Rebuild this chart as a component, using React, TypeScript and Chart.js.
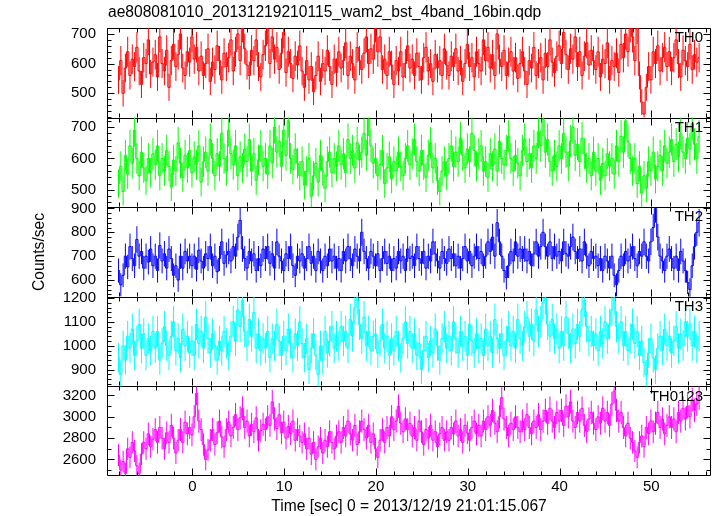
import React, { useEffect, useRef } from 'react';
import { Chart, registerables } from 'chart.js';

Chart.register(...registerables);

const TITLE = 'ae808081010_20131219210115_wam2_bst_4band_16bin.qdp';
const X_TITLE = 'Time [sec] 0 = 2013/12/19 21:01:15.067';
const Y_TITLE = 'Counts/sec';
const BAND_LABELS = ['TH0', 'TH1', 'TH2', 'TH3', 'TH0123'];
const COLORS = ['#ff0000', '#00ff00', '#0000ff', '#00ffff', '#ff00ff'];

const T_START = -8.045; // centre of the first 0.25 s bin
const BIN = 0.25;
const X_MIN = -9.3;
const X_MAX = 56.5;
const X_LABELS = [0, 10, 20, 30, 40, 50];
const X_MINOR = 2;
const X_MAJOR = 10;

const Y_MINS = [418, 445, 530, 830, 2445];
const Y_MAXS = [720, 730, 905, 1205, 3285];
const Y_MAJOR = [100, 100, 100, 100, 200];
const Y_MINOR = [20, 20, 20, 20, 100];

const TH0 = [
  545, 610, 500, 585, 640, 560, 615, 590, 655, 575, 530, 620, 600, 680, 565, 605,
  630, 555, 690, 600, 575, 645, 520, 610, 665, 590, 630, 700, 585, 560, 640, 605,
  690, 615, 655, 575, 625, 560, 600, 650, 540, 605, 580, 660, 610, 545, 635, 590,
  620, 680, 575, 640, 700, 610, 725, 650, 595, 560, 645, 610, 680, 590, 555, 630,
  660, 720, 600, 690, 615, 655, 580, 635, 705, 570, 640, 600, 550, 625, 595, 660,
  575, 520, 610, 545, 590, 505, 560, 625, 540, 600, 575, 645, 590, 530, 615, 570,
  640, 585, 610, 670, 560, 625, 600, 545, 655, 610, 580, 635, 690, 600, 650, 615,
  725, 640, 690, 580, 615, 560, 640, 595, 530, 610, 575, 640, 555, 600, 660, 585,
  615, 560, 635, 590, 545, 620, 655, 575, 600, 540, 630, 585, 610, 560, 650, 595,
  560, 625, 590, 650, 575, 610, 540, 600, 665, 590, 620, 555, 640, 600, 575, 680,
  610, 655, 585, 630, 560, 700, 615, 590, 645, 560, 605, 640, 575, 620, 550, 600,
  640, 575, 530, 610, 585, 655, 560, 600, 620, 545, 635, 590, 680, 605, 570, 625,
  660, 600, 705, 630, 580, 650, 615, 690, 590, 640, 560, 625, 670, 595, 645, 610,
  580, 640, 555, 615, 600, 670, 545, 610, 590, 635, 570, 665, 620, 700, 640, 725,
  690, 610, 720, 560, 470, 430, 520, 590, 545, 640, 600, 660, 575, 620, 655, 590,
  640, 575, 620, 680, 600, 555, 645, 610, 590, 665, 580, 630, 605, 620,
];

const TH1 = [
  520, 575, 495, 610, 550, 640, 585, 690, 600, 545, 620, 570, 530, 600, 555, 615,
  580, 640, 545, 600, 560, 625, 575, 510, 595, 560, 650, 585, 540, 610, 570, 625,
  555, 605, 580, 640, 525, 590, 620, 560, 660, 600, 545, 615, 575, 680, 600, 560,
  690, 615, 580, 640, 545, 605, 570, 630, 590, 660, 560, 615, 530, 595, 640, 575,
  600, 550, 640, 585, 700, 620, 655, 575, 690, 610, 720, 600, 565, 630, 585, 545,
  590, 515, 560, 600, 480, 545, 585, 525, 610, 560, 505, 590, 620, 555, 600, 575,
  640, 580, 615, 555, 660, 600, 625, 570, 650, 595, 620, 680, 610, 725, 640, 585,
  600, 545, 580, 625, 520, 570, 605, 535, 590, 560, 620, 575, 545, 600, 640, 580,
  615, 660, 590, 560, 625, 580, 540, 610, 650, 570, 600, 530, 495, 560, 590, 545,
  600, 640, 575, 620, 590, 665, 610, 570, 630, 590, 680, 625, 575, 615, 640, 560,
  590, 540, 615, 575, 630, 560, 655, 600, 580, 625, 670, 600, 560, 610, 585, 545,
  625, 660, 590, 615, 570, 640, 600, 685, 640, 725, 620, 660, 590, 560, 610, 575,
  640, 600, 680, 620, 575, 655, 700, 610, 645, 590, 665, 615, 570, 600, 545, 620,
  560, 600, 530, 585, 545, 615, 575, 600, 550, 640, 590, 670, 620, 720, 655, 600,
  560, 600, 520, 575, 490, 545, 505, 590, 560, 620, 535, 575, 610, 560, 640, 585,
  620, 660, 590, 645, 605, 680, 620, 600, 665, 630, 710, 645, 600, 670,
];

const TH2 = [
  640, 580, 620, 700, 655, 740, 690, 660, 770, 700, 720, 650, 700, 675, 730, 660,
  700, 640, 745, 680, 710, 650, 730, 690, 620, 660, 600, 700, 650, 720, 680, 700,
  660, 700, 645, 725, 680, 650, 710, 690, 740, 660, 700, 635, 690, 760, 670, 705,
  720, 680, 740, 700, 780, 850, 730, 690, 650, 720, 680, 710, 640, 690, 660, 730,
  690, 740, 670, 710, 650, 760, 700, 680, 640, 710, 690, 740, 660, 620, 700, 680,
  710, 650, 690, 740, 670, 700, 640, 720, 680, 640, 700, 660, 730, 680, 700, 650,
  690, 640, 720, 680, 740, 690, 660, 730, 700, 680, 800, 720, 690, 650, 720, 700,
  660, 710, 640, 690, 720, 670, 700, 640, 690, 650, 720, 680, 700, 640, 730, 690,
  700, 660, 740, 690, 670, 720, 650, 700, 680, 760, 710, 680, 650, 720, 690, 670,
  730, 690, 710, 660, 700, 650, 690, 740, 680, 720, 660, 700, 740, 690, 720, 660,
  700, 760, 720, 780, 700, 840, 760, 700, 640, 610, 660, 720, 680, 760, 700, 730,
  690, 730, 680, 720, 660, 710, 760, 700, 740, 800, 740, 700, 760, 690, 740, 700,
  720, 680, 760, 710, 700, 740, 780, 720, 690, 730, 680, 760, 700, 660, 720, 690,
  700, 660, 690, 640, 700, 680, 650, 700, 620, 580, 640, 700, 660, 720, 680, 700,
  740, 690, 660, 720, 700, 760, 700, 680, 760, 820, 900, 780, 700, 680, 640, 700,
  730, 690, 650, 700, 640, 720, 680, 640, 590, 560, 660, 740, 800, 840,
];

const TH3 = [
  950, 880, 1000, 940, 1040, 990, 1070, 960, 1020, 1090, 990, 1050, 960, 1030, 980, 1060,
  990, 1060, 940, 1010, 1080, 1000, 960, 1040, 1100, 980, 1030, 950, 1070, 1000, 1040, 970,
  1020, 960, 1090, 1010, 1060, 990, 1120, 1030, 970, 1050, 1000, 940, 1020, 980, 1060, 1010,
  960, 1040, 1100, 1020, 1150, 1080, 1190, 1060, 1000, 1110, 1040, 1140, 990, 1050, 980, 1030,
  990, 1060, 950, 1030, 1000, 1090, 1020, 960, 1040, 980, 1070, 1010, 950, 1050, 1000, 1100,
  1010, 950, 1030, 900, 990, 1050, 960, 880, 1000, 940, 1060, 970, 1020, 1080, 990, 1040,
  1000, 1080, 1020, 1060, 990, 1110, 1040, 1160, 1200, 1090, 1030, 1120, 1000, 1060, 980, 1040,
  1050, 970, 1020, 1090, 990, 1040, 960, 1030, 980, 1060, 1000, 950, 1030, 1100, 1010, 1060,
  990, 1050, 960, 1010, 900, 980, 1040, 950, 1020, 970, 1070, 1000, 940, 1030, 1080, 990,
  1040, 980, 1100, 1030, 970, 1060, 1000, 1040, 960, 1090, 1020, 970, 1050, 990, 1030, 960,
  1070, 1000, 1040, 970, 1110, 1030, 990, 1050, 960, 1020, 1080, 1000, 1060, 990, 1110, 1030,
  1000, 1080, 1120, 1040, 1090, 1020, 1150, 1060, 1100, 1180, 1200, 1090, 1040, 1110, 1030, 1070,
  990, 1060, 1000, 1120, 1050, 990, 1070, 1010, 1090, 1040, 1150, 1190, 1080, 1020, 1060, 1000,
  1050, 980, 1060, 1010, 1100, 1030, 1090, 1150, 1200, 1080, 1030, 1100, 1000, 1060, 980, 1030,
  1090, 1010, 1060, 960, 1020, 930, 880, 970, 1030, 950, 900, 990, 1040, 980, 1070, 1000,
  1040, 970, 1020, 1080, 990, 1050, 1000, 1100, 1040, 1090, 1000, 1060, 990, 1040,
];

const TH0123 = [
  2640, 2500, 2580, 2470, 2700, 2620, 2760, 2680, 2540, 2470, 2650, 2760, 2700, 2840, 2720, 2790,
  2880, 2760, 2900, 2800, 2700, 2850, 2760, 2920, 2800, 2660, 2780, 2880, 2760, 2950, 2840, 2900,
  2830, 3000, 3220, 2960, 2880, 2740, 2600, 2690, 2780, 2880, 2740, 2850, 2960, 2810, 2720, 2880,
  2950, 2820, 2900, 3020, 2880, 2990, 3080, 2900, 2960, 2820, 2930, 2860, 2990, 2780, 2870, 2930,
  2880, 3000, 2920, 3140, 2980, 2890, 3020, 2850, 2950, 2800, 2910, 2840, 2960, 2780, 2880, 2820,
  2760, 2840, 2700, 2800, 2650, 2760, 2600, 2720, 2800, 2660, 2780, 2720, 2860, 2760, 2700, 2820,
  2860, 2760, 2900, 2820, 2960, 2840, 2780, 2920, 2740, 2860, 2960, 2880, 2800, 2920, 2760, 2840,
  2700, 2620, 2780, 2880, 2760, 2900, 2820, 3000, 2880, 2960, 3100, 2940, 2860, 2980, 2880, 2940,
  2820, 2900, 2780, 2960, 2860, 2740, 2880, 2800, 2920, 2780, 2860, 2720, 2840, 2900, 2780, 2860,
  2780, 2900, 2840, 2960, 2820, 2880, 2760, 2920, 2850, 2780, 2900, 2960, 2840, 2920, 2820, 2960,
  2880, 3000, 2920, 3060, 2940, 2860, 3000, 3180, 2980, 2900, 2820, 2940, 2880, 3000, 2900, 2860,
  2960, 2880, 3020, 2900, 2840, 2960, 2900, 3020, 2880, 2960, 3060, 2940, 3080, 2960, 2900, 3040,
  2960, 3060, 2920, 3100, 3000, 3140, 2960, 2900, 3040, 2960, 3080, 2920, 2860, 2980, 3040, 2940,
  2880, 3000, 2940, 3080, 2960, 3040, 2920, 3120, 3240, 3060, 2960, 3040, 2900, 2820, 2940, 2800,
  2760, 2680, 2620, 2760, 2820, 2720, 2900, 2840, 2960, 2860, 2940, 3040, 2900, 2980, 2840, 2920,
  3000, 2900, 2980, 2860, 3040, 2960, 3080, 2980, 3100, 3000, 3160, 3060, 3120, 3180,
];

const SERIES = [TH0, TH1, TH2, TH3, TH0123];

const FONT_FAMILY = '"Liberation Sans", Arial, Helvetica, sans-serif';
const FONT_SIZE = 15;
const TITLE_FONT_SIZE = 15.6;

const qdpPlugin = {
  id: 'qdpFrame',
  beforeDatasetsDraw(chart: any) {
    const ctx = chart.ctx;
    const { left, right, top, bottom } = chart.chartArea;
    const xs = chart.scales.x;
    ctx.save();
    ctx.strokeStyle = '#000';
    ctx.lineWidth = 1;
    ctx.beginPath();
    const L = Math.round(left) + 0.5;
    const R = Math.round(right) - 0.5;
    const T = Math.round(top) + 0.5;
    const B = Math.round(bottom) - 0.5;
    ctx.rect(L, T, R - L, B - T);
    for (let i = 0; i < SERIES.length; i++) {
      const ys = chart.scales['y' + i];
      const pt = Math.round(ys.top) + 0.5;
      const pb = Math.round(ys.bottom) - 0.5;
      if (i > 0) {
        ctx.moveTo(L, pt);
        ctx.lineTo(R, pt);
      }
      for (let t = Math.ceil(X_MIN / X_MINOR) * X_MINOR; t <= X_MAX; t += X_MINOR) {
        const px = Math.round(xs.getPixelForValue(t)) + 0.5;
        const len = t % X_MAJOR === 0 ? 7 : 4;
        ctx.moveTo(px, pt);
        ctx.lineTo(px, pt + len);
        ctx.moveTo(px, pb);
        ctx.lineTo(px, pb - len);
      }
      const mn = Y_MINOR[i];
      for (let v = Math.ceil(Y_MINS[i] / mn) * mn; v <= Y_MAXS[i]; v += mn) {
        const py = Math.round(ys.getPixelForValue(v)) + 0.5;
        const len = v % Y_MAJOR[i] === 0 ? 7 : 4;
        ctx.moveTo(L, py);
        ctx.lineTo(L + len, py);
        ctx.moveTo(R, py);
        ctx.lineTo(R - len, py);
      }
    }
    ctx.stroke();
    ctx.restore();
  },
  beforeDatasetDraw(chart: any, args: any) {
    const i = args.index;
    const ys = chart.scales['y' + i];
    const xs = chart.scales.x;
    const { left, right } = chart.chartArea;
    const ctx = chart.ctx;
    ctx.save();
    ctx.beginPath();
    ctx.rect(left, ys.top, right - left, ys.bottom - ys.top);
    ctx.clip();
    ctx.strokeStyle = COLORS[i];
    ctx.lineWidth = 1;
    ctx.beginPath();
    SERIES[i].forEach((v, k) => {
      const err = Math.sqrt(v / BIN);
      const px = xs.getPixelForValue(T_START + k * BIN);
      ctx.moveTo(px, ys.getPixelForValue(v - err));
      ctx.lineTo(px, ys.getPixelForValue(v + err));
    });
    ctx.stroke();
  },
  afterDatasetDraw(chart: any) {
    chart.ctx.restore();
  },
  afterDraw(chart: any) {
    const ctx = chart.ctx;
    const { left, right } = chart.chartArea;
    ctx.save();
    ctx.fillStyle = '#000';
    ctx.textBaseline = 'middle';
    ctx.textAlign = 'left';
    ctx.font = `${TITLE_FONT_SIZE}px ${FONT_FAMILY}`;
    ctx.fillText(TITLE, left + 1, 13);
    ctx.font = `${FONT_SIZE}px ${FONT_FAMILY}`;
    ctx.textAlign = 'right';
    for (let i = 0; i < SERIES.length; i++) {
      const ys = chart.scales['y' + i];
      ctx.fillText(BAND_LABELS[i], right - 8, ys.top + 10);
    }
    ctx.restore();
  },
};

export default function App() {
  const ref = useRef<HTMLCanvasElement>(null);
  useEffect(() => {
    document.body.style.margin = '0';
    const canvas = ref.current!;
    const font = { size: FONT_SIZE, family: FONT_FAMILY };
    const titleFont = { size: TITLE_FONT_SIZE, family: FONT_FAMILY };
    const datasets = SERIES.map((s, i) => ({
      label: BAND_LABELS[i],
      data: s.map((v, k) => ({ x: T_START + k * BIN, y: v })),
      yAxisID: 'y' + i,
      borderColor: COLORS[i],
      backgroundColor: COLORS[i],
      borderWidth: 1,
      pointRadius: 0,
      pointHoverRadius: 0,
      stepped: 'middle' as const,
      fill: false,
      tension: 0,
    }));
    const scales: any = {
      x: {
        type: 'linear',
        position: 'bottom',
        min: X_MIN,
        max: X_MAX,
        afterBuildTicks: (s: any) => {
          s.ticks = X_LABELS.map((v) => ({ value: v }));
        },
        afterFit: (s: any) => {
          s.height = 40;
        },
        grid: { display: false, drawTicks: false },
        border: { display: false },
        ticks: {
          padding: 2,
          font,
          color: '#000',
          maxRotation: 0,
          autoSkip: false,
          callback: (v: any) => String(v),
        },
        title: { display: true, text: X_TITLE, padding: { top: 0, bottom: 0 }, font: titleFont, color: '#000' },
      },
    };
    for (let i = SERIES.length - 1; i >= 0; i--) {
      const major = Y_MAJOR[i];
      const mn = Y_MINS[i];
      const mx = Y_MAXS[i];
      scales['y' + i] = {
        type: 'linear',
        position: 'left',
        stack: 'panels',
        stackWeight: 1,
        weight: SERIES.length - i,
        min: mn,
        max: mx,
        afterBuildTicks: (s: any) => {
          const t: any[] = [];
          for (let v = Math.ceil(mn / major) * major; v <= mx; v += major) t.push({ value: v });
          s.ticks = t;
        },
        afterFit: (s: any) => {
          s.width = 107;
        },
        grid: { display: false, drawTicks: false },
        border: { display: false },
        ticks: { padding: 11, font, color: '#000', autoSkip: false, callback: (v: any) => String(v) },
        title: {
          display: i === 2,
          text: Y_TITLE,
          padding: { top: 30, bottom: 0 },
          font: titleFont,
          color: '#000',
        },
      };
    }
    const chart = new Chart(canvas, {
      type: 'line',
      data: { datasets },
      options: {
        animation: false,
        responsive: false,
        devicePixelRatio: 1,
        layout: { padding: { top: 28, right: 6, left: 0, bottom: 0 } },
        plugins: {
          legend: { display: false },
          tooltip: { enabled: false },
          title: { display: false },
        },
        events: [],
        scales,
      } as any,
      plugins: [qdpPlugin],
    });
    return () => chart.destroy();
  }, []);
  return (
    <div style={{ width: 717, height: 516, background: '#fff' }}>
      <canvas ref={ref} width={717} height={516} style={{ display: 'block' }} />
    </div>
  );
}
